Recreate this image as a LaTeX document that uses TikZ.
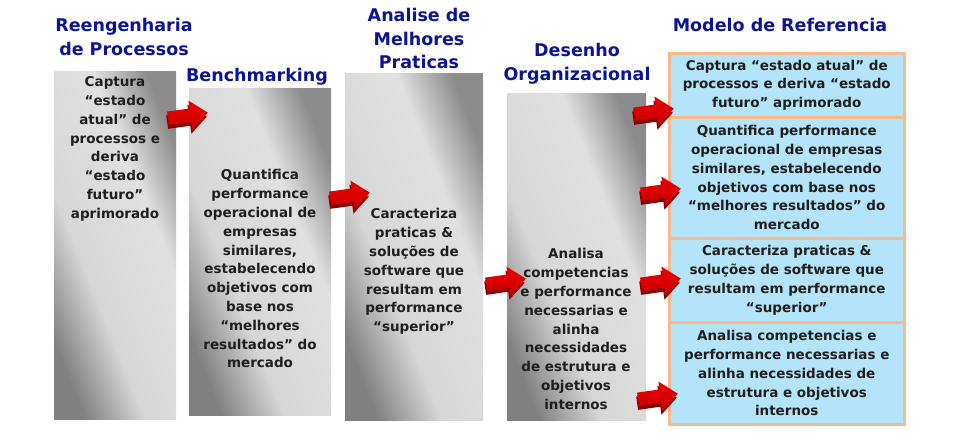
\documentclass[tikz,border=0pt]{standalone}
\usepackage{fontspec}
\setmainfont{DejaVu Sans}
\usetikzlibrary{shapes.arrows,shadows}
\definecolor{titleblue}{RGB}{12,20,150}
\definecolor{boxblue}{RGB}{180,228,250}
\definecolor{boxline}{RGB}{248,185,140}
\definecolor{textgray}{RGB}{30,30,30}
\definecolor{arrowred}{RGB}{235,0,0}
\definecolor{arrowdark}{RGB}{140,0,0}
\pgfdeclarehorizontalshading{columnshade}{100bp}{color(0bp)=(black!50); color(25bp)=(black!50); color(40bp)=(black!16); color(62bp)=(black!12); color(75bp)=(black!45); color(100bp)=(black!45)}

\begin{document}
\begin{tikzpicture}[x=1pt, y=-1pt,
    title/.style={text=titleblue, font=\fontsize{17.5}{23.5}\selectfont\bfseries, align=center, anchor=north, inner sep=0pt},
    column/.style={shade, shading=columnshade, shading angle=22, anchor=north west, inner sep=0pt},
    coltext/.style={text=textgray, font=\fontsize{13.5}{18.8}\selectfont\bfseries, align=center, anchor=north, inner sep=0pt},
    refbox/.style={fill=boxblue, draw=boxline, line width=2.5pt, anchor=north west, minimum width=235pt, inner sep=0pt,
        text=textgray, font=\fontsize{13.5}{18.8}\selectfont\bfseries, align=center},
    redarrow/.style={single arrow, single arrow head extend=8pt, single arrow tip angle=80, minimum height=40pt, inner sep=6.5pt,
        rotate=8, top color=arrowred, bottom color=arrowred!85!black,
        drop shadow={shadow xshift=-1pt, shadow yshift=-4pt, fill=arrowdark, opacity=1}}]
    \useasboundingbox (0,0) rectangle (955,439);
    % titles
    \node[title] (treeng) at (124,18.5) {Reengenharia\\de Processos};
    \node[title] (tbench) at (257,68.5) {Benchmarking};
    \node[title] (tpraticas) at (419,8.5) {Analise de\\Melhores\\Praticas};
    \node[title] (tdesenho) at (577,43.5) {Desenho\\Organizacional};
    \node[title] (tmodelo) at (780,18.5) {Modelo de Referencia};
    % gray columns
    \node[column, minimum width=122pt, minimum height=348pt] (reeng) at (54,71) {};
    \node[column, minimum width=142pt, minimum height=327pt] (bench) at (189,88) {};
    \node[column, minimum width=138pt, minimum height=347pt] (praticas) at (345,73) {};
    \node[column, minimum width=139pt, minimum height=327pt] (desenho) at (507,93) {};
    \node[coltext] (reengtxt) at (115,76.5) {Captura\\“estado\\atual” de\\processos e\\deriva\\“estado\\futuro”\\aprimorado};
    \node[coltext] (benchtxt) at (260,169.5) {Quantifica\\performance\\operacional de\\empresas\\similares,\\estabelecendo\\objetivos com\\base nos\\“melhores\\resultados” do\\mercado};
    \node[coltext] (praticastxt) at (414,208.5) {Caracteriza\\praticas \&\\soluções de\\software que\\resultam em\\performance\\“superior”};
    \node[coltext] (desenhotxt) at (576,248.5) {Analisa\\competencias\\e performance\\necessarias e\\alinha\\necessidades\\de estrutura e\\objetivos\\internos};
    % reference model
    \node[refbox, minimum height=64pt] (ref1) at (668,52) {Captura “estado atual” de\\processos e deriva “estado\\futuro” aprimorado};
    \node[refbox, minimum height=121pt] (ref2) at (668,116) {Quantifica performance\\operacional de empresas\\similares, estabelecendo\\objetivos com base nos\\“melhores resultados” do\\mercado};
    \node[refbox, minimum height=84pt] (ref3) at (668,237) {Caracteriza praticas \&\\soluções de software que\\resultam em performance\\“superior”};
    \node[refbox, minimum height=102pt] (ref4) at (668,321) {Analisa competencias e\\performance necessarias e\\alinha necessidades de\\estrutura e objetivos\\internos};
    % arrows
    \node[redarrow] (a1) at (184,116) {};
    \node[redarrow] (a2) at (346,196) {};
    \node[redarrow] (a3) at (502,282) {};
    \node[redarrow] (a4) at (650,112) {};
    \node[redarrow] (a5) at (657,192) {};
    \node[redarrow] (a6) at (657,282) {};
    \node[redarrow] (a7) at (654,397) {};
\end{tikzpicture}
\end{document}
